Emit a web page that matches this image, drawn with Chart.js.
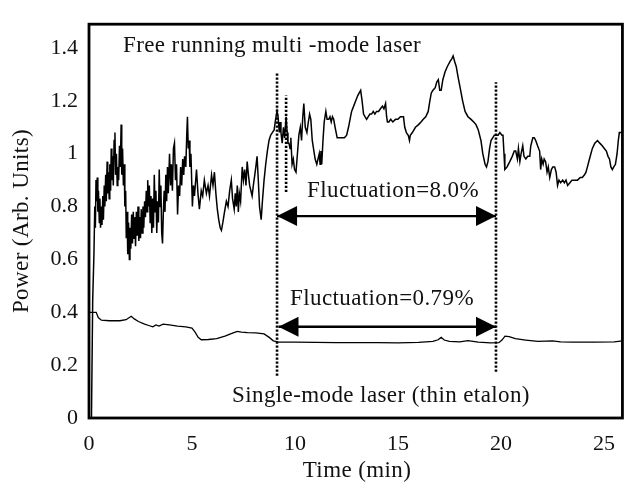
<!DOCTYPE html>
<html>
<head>
<meta charset="utf-8">
<script src="https://cdn.jsdelivr.net/npm/chart.js@4/dist/chart.umd.min.js"></script>
<style>
  html, body { margin: 0; padding: 0; background: #ffffff; }
  #wrap { width: 628px; height: 492px; }
</style>
</head>
<body>
<div id="wrap"><canvas id="c" width="628" height="492"></canvas></div>
<script>
// ---------- data ----------
const xTickValues = [0, 5, 10, 15, 20, 25];
const xTickLabels = ["0", "5", "10", "15", "20", "25"];
const yTickValues = [0, 0.2, 0.4, 0.6, 0.8, 1.0, 1.2, 1.4];
const yTickLabels = ["0", "0.2", "0.4", "0.6", "0.8", "1", "1.2", "1.4"];

// free running multi-mode laser: [time (min), power]
const multiMode = [
  [0.12,0.00],[0.18,0.45],[0.24,0.62],[0.28,0.80],[0.31,0.72],[0.34,0.90],[0.37,0.82],[0.40,0.91],
  [0.43,0.78],[0.46,0.86],[0.50,0.74],[0.53,0.83],[0.56,0.72],[0.60,0.80],[0.63,0.73],[0.67,0.84],
  [0.70,0.75],[0.74,0.88],[0.77,0.80],[0.81,0.92],[0.84,0.82],[0.88,0.97],[0.91,0.85],[0.95,0.93],
  [0.98,0.83],[1.01,0.96],[1.05,0.86],[1.08,1.02],[1.11,0.90],[1.15,0.99],[1.18,0.88],[1.22,1.05],
  [1.26,1.08],[1.29,0.92],[1.33,1.00],[1.37,0.88],[1.40,0.95],[1.44,0.90],[1.48,1.03],[1.52,0.95],
  [1.56,1.11],[1.59,0.92],[1.63,1.02],[1.67,0.88],[1.71,0.96],[1.74,0.80],[1.78,0.86],[1.81,0.68],
  [1.85,0.78],[1.88,0.62],[1.92,0.74],[1.96,0.60],[1.99,0.72],[2.03,0.64],[2.07,0.77],[2.11,0.66],
  [2.15,0.78],[2.19,0.68],[2.22,0.76],[2.26,0.65],[2.30,0.78],[2.34,0.69],[2.38,0.80],[2.42,0.67],
  [2.46,0.76],[2.50,0.68],[2.54,0.79],[2.58,0.70],[2.62,0.80],[2.66,0.72],[2.70,0.82],[2.74,0.76],
  [2.78,0.86],[2.82,0.78],[2.85,0.90],[2.89,0.80],[2.93,0.88],[2.97,0.74],[3.01,0.84],[3.05,0.70],
  [3.09,0.83],[3.13,0.72],[3.17,0.92],[3.21,0.78],[3.25,0.86],[3.29,0.70],[3.33,0.82],[3.37,0.74],
  [3.41,0.94],[3.45,0.80],[3.49,0.88],[3.53,0.70],[3.57,0.66],[3.61,0.78],[3.65,0.86],[3.69,0.78],
  [3.73,0.92],[3.77,0.82],[3.81,0.95],[3.85,0.85],[3.91,1.00],[3.96,0.88],[4.00,0.96],[4.05,0.86],
  [4.10,1.02],[4.15,1.04],[4.20,0.90],[4.25,0.96],[4.30,0.77],[4.35,0.88],[4.40,0.84],[4.45,0.95],
  [4.50,0.88],[4.55,0.98],[4.60,0.92],[4.64,0.99],[4.70,0.95],[4.75,1.08],[4.78,1.14],[4.82,1.02],
  [4.86,1.05],[4.90,0.95],[4.95,1.00],[5.02,0.80],[5.07,0.88],[5.12,0.84],[5.22,0.94],[5.29,0.85],
  [5.36,0.79],[5.45,0.86],[5.52,0.84],[5.60,0.90],[5.70,0.85],[5.78,0.88],[5.85,0.84],[5.95,0.92],
  [6.02,0.88],[6.09,0.93],[6.16,0.85],[6.23,0.79],[6.30,0.75],[6.37,0.72],[6.43,0.71],[6.50,0.74],
  [6.58,0.78],[6.67,0.82],[6.75,0.80],[6.83,0.86],[6.91,0.90],[6.97,0.83],[7.05,0.79],[7.10,0.85],
  [7.15,0.80],[7.20,0.88],[7.25,0.78],[7.30,0.85],[7.36,0.82],[7.44,0.95],[7.50,0.90],[7.56,0.94],
  [7.62,0.88],[7.68,0.97],[7.74,0.92],[7.80,0.88],[7.86,0.86],[7.92,0.84],[7.98,0.88],[8.05,0.92],
  [8.10,0.95],[8.16,0.99],[8.22,0.90],[8.28,0.80],[8.36,0.75],[8.42,0.82],[8.50,0.90],[8.58,0.96],
  [8.66,1.01],[8.74,1.05],[8.82,1.07],[8.90,1.08],[8.99,1.09],[9.06,1.13],[9.13,1.16],[9.18,1.14],
  [9.24,1.08],[9.28,1.12],[9.32,1.08],[9.38,1.04],[9.44,1.10],[9.50,1.06],[9.57,1.14],[9.62,1.08],
  [9.66,1.04],[9.71,1.04],[9.76,1.02],[9.80,1.06],[9.86,0.96],[9.92,0.98],[9.98,0.94],[10.05,0.93],
  [10.12,1.00],[10.19,1.07],[10.26,1.10],[10.32,1.05],[10.38,1.14],[10.43,1.19],[10.50,1.10],[10.58,1.08],
  [10.65,1.12],[10.71,1.15],[10.77,1.13],[10.84,1.05],[10.92,1.01],[10.98,0.98],[11.06,0.96],[11.12,0.98],
  [11.18,1.00],[11.22,0.96],[11.26,1.01],[11.30,0.96],[11.36,1.05],[11.42,1.12],[11.50,1.16],[11.56,1.13],
  [11.64,1.13],[11.70,1.14],[11.76,1.12],[11.82,1.14],[11.88,1.13],[11.95,1.10],[12.05,1.06],[12.13,1.06],
  [12.25,1.06],[12.40,1.06],[12.51,1.07],[12.60,1.10],[12.70,1.14],[12.75,1.16],[12.85,1.18],[12.95,1.20],
  [13.05,1.22],[13.12,1.23],[13.19,1.24],[13.26,1.20],[13.33,1.15],[13.40,1.14],[13.48,1.13],[13.56,1.14],
  [13.64,1.15],[13.72,1.15],[13.80,1.16],[13.88,1.15],[13.96,1.16],[14.06,1.16],[14.15,1.17],[14.25,1.18],
  [14.32,1.17],[14.40,1.19],[14.45,1.14],[14.49,1.12],[14.56,1.12],[14.65,1.13],[14.75,1.12],[14.88,1.13],
  [15.00,1.13],[15.12,1.14],[15.20,1.14],[15.27,1.14],[15.33,1.10],[15.41,1.08],[15.50,1.07],[15.56,1.05],
  [15.60,1.07],[15.70,1.08],[15.85,1.10],[16.00,1.11],[16.12,1.12],[16.23,1.13],[16.35,1.14],[16.47,1.16],
  [16.55,1.20],[16.62,1.23],[16.70,1.24],[16.81,1.25],[16.88,1.27],[16.96,1.28],[17.03,1.24],[17.10,1.24],
  [17.18,1.28],[17.29,1.31],[17.40,1.33],[17.54,1.35],[17.62,1.36],[17.68,1.37],[17.75,1.35],[17.83,1.33],
  [17.92,1.29],[18.02,1.25],[18.14,1.20],[18.26,1.16],[18.40,1.14],[18.55,1.13],[18.68,1.12],[18.79,1.11],
  [18.90,1.09],[19.03,1.05],[19.12,1.00],[19.23,0.96],[19.30,0.95],[19.37,0.97],[19.45,1.02],[19.52,1.05],
  [19.60,1.06],[19.68,1.07],[19.76,1.07],[19.86,1.07],[19.95,1.08],[20.05,1.07],[20.10,1.07],[20.15,1.00],
  [20.19,0.94],[20.30,0.95],[20.43,0.97],[20.55,0.99],[20.65,1.01],[20.72,1.01],[20.80,0.98],[20.85,1.02],
  [20.92,0.97],[20.98,1.00],[21.06,1.03],[21.12,0.99],[21.21,0.98],[21.30,0.99],[21.40,0.99],[21.45,1.03],
  [21.55,1.06],[21.62,1.06],[21.69,1.05],[21.78,1.03],[21.88,1.01],[21.93,0.94],[21.98,0.98],[22.05,0.96],
  [22.10,0.98],[22.17,0.97],[22.24,0.93],[22.30,0.95],[22.37,0.91],[22.45,0.94],[22.52,0.95],[22.61,0.95],
  [22.68,0.93],[22.75,0.88],[22.82,0.90],[22.90,0.89],[23.00,0.90],[23.08,0.89],[23.16,0.90],[23.24,0.88],
  [23.35,0.89],[23.45,0.90],[23.55,0.90],[23.65,0.90],[23.72,0.90],[23.85,0.91],[23.95,0.91],[24.06,0.92],
  [24.13,0.93],[24.20,0.95],[24.30,0.98],[24.44,1.02],[24.56,1.04],[24.69,1.05],[24.80,1.04],[24.92,1.03],
  [25.02,1.02],[25.12,1.01],[25.20,0.99],[25.27,0.98],[25.34,0.95],[25.41,0.94],[25.48,0.95],[25.56,0.96],
  [25.64,1.00],[25.70,1.05],[25.75,1.08],[25.82,1.08],[25.90,1.08]
];

// single-mode laser (thin etalon): [time (min), power]
const singleMode = [
  [0.00,0.400],[0.20,0.400],[0.35,0.400],[0.45,0.380],[0.60,0.370],[1.00,0.368],[1.50,0.368],[1.80,0.372],
  [2.05,0.385],[2.20,0.375],[2.40,0.365],[2.70,0.355],[2.90,0.350],[3.10,0.345],[3.25,0.352],[3.40,0.348],
  [3.60,0.355],[3.90,0.352],[4.30,0.348],[4.70,0.345],[5.00,0.340],[5.15,0.325],[5.30,0.305],[5.45,0.296],
  [5.80,0.297],[6.20,0.300],[6.60,0.310],[7.00,0.322],[7.20,0.328],[7.40,0.325],[7.70,0.323],[8.10,0.322],
  [8.50,0.318],[8.75,0.305],[8.95,0.292],[9.20,0.287],[10.00,0.287],[11.00,0.286],[12.00,0.285],[13.00,0.285],
  [14.00,0.285],[15.00,0.284],[16.00,0.286],[16.70,0.290],[16.95,0.296],[17.10,0.305],[17.25,0.295],[17.50,0.290],
  [18.00,0.288],[18.40,0.293],[18.90,0.287],[19.50,0.284],[19.90,0.285],[20.05,0.295],[20.20,0.310],[20.40,0.308],
  [20.70,0.300],[21.20,0.295],[21.80,0.290],[22.50,0.292],[22.90,0.288],[23.50,0.287],[24.50,0.287],[25.50,0.288],
  [25.90,0.292]
];

// dotted marker lines: [time, from power, to power]
const markerLines = [
  [9.13, 0.16, 1.31],
  [9.57, 0.855, 1.22],
  [19.76, 0.175, 1.27]
];

// double-headed arrows: [from time, to time, power]
const arrows = [
  [9.13, 19.76, 0.764],
  [9.20, 19.76, 0.345]
];

const annotations = [
  "Free running multi -mode laser",
  "Fluctuation=8.0%",
  "Fluctuation=0.79%",
  "Single-mode laser (thin etalon)"
];
const xTitle = "Time (min)";
const yTitle = "Power (Arb. Units)";

// ---------- chart ----------
const SERIF = '"Liberation Serif", "Times New Roman", serif';
const toXY = arr => arr.map(p => ({ x: p[0], y: p[1] }));

const datasets = [
  { data: toXY(multiMode), borderColor: '#000', borderWidth: 1.5, pointRadius: 0, tension: 0, fill: false },
  { data: toXY(singleMode), borderColor: '#000', borderWidth: 1.3, pointRadius: 0, tension: 0, fill: false }
];
markerLines.forEach(m => {
  datasets.push({
    data: [{ x: m[0], y: m[1] }, { x: m[0], y: m[2] }],
    borderColor: '#000', borderWidth: 2.6, borderDash: [2.2, 1.8], pointRadius: 0, fill: false
  });
});
arrows.forEach(a => {
  datasets.push({
    data: [{ x: a[0], y: a[2] }, { x: a[1], y: a[2] }],
    borderColor: '#000', borderWidth: 2.4, pointRadius: 0, fill: false
  });
});

const decor = {
  id: 'decor',
  afterDatasetsDraw(chart) {
    const { ctx, chartArea: ca, scales } = chart;
    const xs = scales.x, ys = scales.y;
    ctx.save();
    // frame
    ctx.strokeStyle = '#000';
    ctx.lineWidth = 2.8;
    ctx.strokeRect(ca.left, ca.top, ca.right - ca.left, ca.bottom - ca.top);

    // arrow heads
    ctx.fillStyle = '#000';
    arrows.forEach(a => {
      const y = ys.getPixelForValue(a[2]);
      const x1 = xs.getPixelForValue(a[0]);
      const x2 = xs.getPixelForValue(a[1]);
      const L = 20, H = 10;
      ctx.beginPath();
      ctx.moveTo(x1, y); ctx.lineTo(x1 + L, y - H); ctx.lineTo(x1 + L, y + H); ctx.closePath(); ctx.fill();
      ctx.beginPath();
      ctx.moveTo(x2, y); ctx.lineTo(x2 - L, y - H); ctx.lineTo(x2 - L, y + H); ctx.closePath(); ctx.fill();
    });

    // annotation texts
    ctx.fillStyle = '#111';
    ctx.font = '23px ' + SERIF;
    ctx.textBaseline = 'alphabetic';
    ctx.textAlign = 'left';
    try { ctx.letterSpacing = '0.4px'; } catch (e) {}
    ctx.fillText(annotations[0], 123, 52);
    ctx.fillText(annotations[1], 307, 197);
    ctx.fillText(annotations[2], 290, 305);
    ctx.fillText(annotations[3], 232, 402);

    // axis titles
    ctx.textAlign = 'center';
    ctx.fillText(xTitle, 357, 477);
    ctx.save();
    ctx.translate(28, 221);
    ctx.rotate(-Math.PI / 2);
    ctx.fillText(yTitle, 0, 0);
    ctx.restore();
    try { ctx.letterSpacing = '0px'; } catch (e) {}
    ctx.restore();
  }
};

new Chart(document.getElementById('c'), {
  type: 'line',
  data: { datasets },
  options: {
    responsive: false,
    animation: false,
    devicePixelRatio: 1,
    layout: { padding: { left: 0, top: 7, right: 3, bottom: 0 } },
    plugins: { legend: { display: false }, tooltip: { enabled: false }, title: { display: false } },
    scales: {
      x: {
        type: 'linear', min: 0, max: 25.9,
        grid: { display: false, drawTicks: false },
        border: { display: false },
        afterBuildTicks: s => { s.ticks = xTickValues.map(v => ({ value: v })); },
        afterFit: s => { s.height = 74; },
        ticks: {
          color: '#111', padding: 13, maxRotation: 0, autoSkip: false,
          font: { family: SERIF, size: 22 },
          callback: (v) => { const i = xTickValues.indexOf(v); return i >= 0 ? xTickLabels[i] : ''; }
        }
      },
      y: {
        type: 'linear', min: 0, max: 1.49,
        grid: { display: false, drawTicks: false },
        border: { display: false },
        afterBuildTicks: s => { s.ticks = yTickValues.map(v => ({ value: v })); },
        afterFit: s => { s.width = 89; },
        ticks: {
          color: '#111', padding: 11, autoSkip: false,
          font: { family: SERIF, size: 22 },
          callback: (v) => {
            const i = yTickValues.findIndex(t => Math.abs(t - v) < 1e-6);
            return i >= 0 ? yTickLabels[i] : '';
          }
        }
      }
    }
  },
  plugins: [decor]
});
</script>
</body>
</html>
